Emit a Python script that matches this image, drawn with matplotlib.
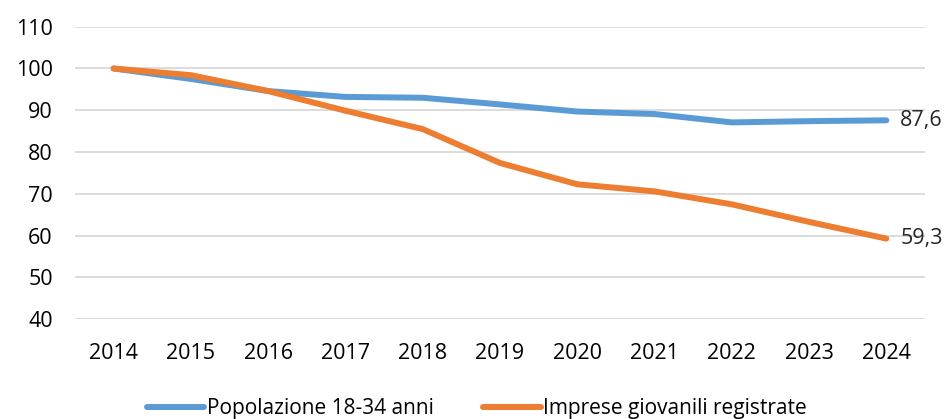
import numpy as np
import matplotlib
matplotlib.use("Agg")
import matplotlib.pyplot as plt

plt.rcParams['font.family'] = ['Open Sans', 'DejaVu Sans']

# values (index 2014 = 100)
years = ['2014', '2015', '2016', '2017', '2018', '2019', '2020', '2021', '2022', '2023', '2024']
popolazione = [100, 97.5, 94.6, 93.2, 93.0, 91.4, 89.7, 89.1, 87.1, 87.4, 87.6]
imprese = [100, 98.4, 94.6, 89.9, 85.5, 77.4, 72.3, 70.6, 67.5, 63.3, 59.3]
labels = ['Popolazione 18-34 anni', 'Imprese giovanili registrate']
end_labels = ['87,6', '59,3']

BLUE = '#5B9BD5'
ORANGE = '#ED7D31'
FS = 15.5

fig = plt.figure(figsize=(9.48, 4.19), dpi=100)
ax = fig.add_axes([0.0791, 0.238, 0.8966, 0.6983])

x = np.arange(len(years))
ax.plot(x, popolazione, color=BLUE, lw=4.3, solid_capstyle='round',
        solid_joinstyle='round', label=labels[0], zorder=3)
ax.plot(x, imprese, color=ORANGE, lw=4.3, solid_capstyle='round',
        solid_joinstyle='round', label=labels[1], zorder=4)

# data labels at the last point
for series, txt in zip([popolazione, imprese], end_labels):
    ax.annotate(txt, (x[-1], series[-1]), xytext=(10, 0), textcoords='offset points',
                va='center', ha='left', fontsize=FS, color='#262626')

ax.set_xlim(-0.5, len(years) - 0.5)
ax.set_ylim(40, 110)
ax.set_yticks(range(40, 111, 10))
ax.set_xticks(x)
ax.set_xticklabels(years)

ax.grid(axis='y', color='#d9d9d9', lw=1.3)
ax.set_axisbelow(True)
for s in ax.spines.values():
    s.set_visible(False)
ax.tick_params(axis='both', length=0, labelsize=FS, colors='#000000')
ax.tick_params(axis='y', pad=16)
ax.tick_params(axis='x', pad=17)

fig.legend(loc='center', bbox_to_anchor=(0.503, 0.025), ncol=2, frameon=False,
           fontsize=15, handlelength=2.75, handletextpad=0.1, columnspacing=2.4)

fig.savefig('out.png', dpi=100)
